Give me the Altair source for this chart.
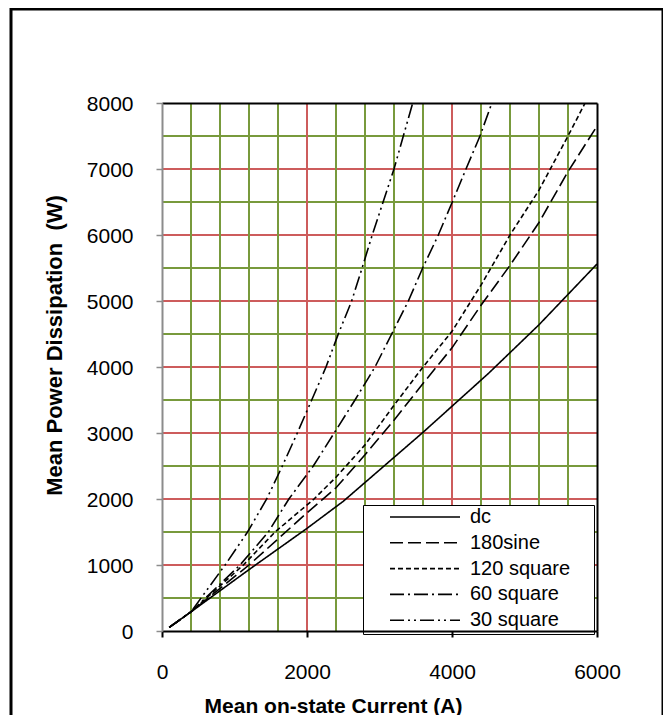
import altair as alt
import pandas as pd

# ---------------- data ----------------
series_names = ["dc", "180sine", "120 square", "60 square", "30 square"]

dc_current = [100, 400, 1200, 2000, 2500, 3600, 4500, 5200, 6000]
dc_power = [55, 290, 930, 1555, 1965, 3010, 3900, 4640, 5560]

sine180_current = [100, 400, 1200, 2000, 2400, 2800, 3200, 3600, 4000, 4400, 4800, 5200, 5600, 6000]
sine180_power = [55, 290, 1000, 1790, 2170, 2670, 3194, 3750, 4290, 4935, 5540, 6190, 6960, 7650]

sq120_current = [100, 400, 1122, 1559, 2097, 2400, 2800, 3200, 3600, 4000, 4400, 4800, 5200, 5600, 5836]
sq120_power = [55, 290, 1000, 1500, 2000, 2330, 2820, 3420, 4000, 4540, 5240, 6000, 6680, 7500, 8000]

sq60_current = [100, 400, 1076, 1467, 1750, 2087, 2375, 2662, 2938, 3168, 3398, 3596, 3811, 4004, 4193, 4386, 4550]
sq60_power = [55, 290, 1000, 1500, 2000, 2500, 3000, 3500, 4000, 4500, 5000, 5500, 6000, 6500, 7000, 7500, 8000]

sq30_current = [100, 400, 870, 1180, 1444, 1660, 1866, 2065, 2262, 2432, 2616, 2760, 2900, 3200, 3458]
sq30_power = [55, 290, 1000, 1500, 2000, 2500, 3000, 3500, 4000, 4500, 5000, 5500, 6000, 7000, 8000]

x_tick_values = [0, 2000, 4000, 6000]
y_tick_values = [0, 1000, 2000, 3000, 4000, 5000, 6000, 7000, 8000]
x_grid_values = [400, 800, 1200, 1600, 2000, 2400, 2800, 3200, 3600, 4000, 4400, 4800, 5200, 5600]
x_grid_major = [2000, 4000]
y_grid_values = [500, 1000, 1500, 2000, 2500, 3000, 3500, 4000, 4500, 5000, 5500, 6000, 6500, 7000, 7500]
y_grid_major = [1000, 2000, 3000, 4000, 5000, 6000, 7000]

x_title = "Mean on-state Current (A)"
y_title = "Mean Power Dissipation\u00a0 (W)"

# ---------------- tables ----------------
rows = []
for name, cur, pw in [
    ("dc", dc_current, dc_power),
    ("180sine", sine180_current, sine180_power),
    ("120 square", sq120_current, sq120_power),
    ("60 square", sq60_current, sq60_power),
    ("30 square", sq30_current, sq30_power),
]:
    for c, p in zip(cur, pw):
        rows.append({"series": name, "current": c, "power": p})
curves = pd.DataFrame(rows)

xgrid = pd.DataFrame({"v": x_grid_values, "major": [v in x_grid_major for v in x_grid_values]})
ygrid = pd.DataFrame({"v": y_grid_values, "major": [v in y_grid_major for v in y_grid_values]})

# ---------------- styles ----------------
FONT = "Liberation Sans"
RED = "#CD5C5C"
GREEN = "#789A3C"
AXIS_GRAY = "#8C8C8C"
dash_patterns = [[1, 0], [13, 5], [5, 3], [14, 4, 2, 4], [14, 4, 2, 4, 2, 4]]
# blank room at the right inside the legend box (non-breaking space + blank braille cell)
LEGEND_PAD = "\u00a0\u2800"

xs = alt.Scale(domain=[0, 6000], nice=False, zero=False)
ys = alt.Scale(domain=[0, 8000], nice=False, zero=False)

ygrid_layer = alt.Chart(ygrid).mark_rule(strokeWidth=2).encode(
    y=alt.Y("v:Q", scale=ys,
            axis=alt.Axis(orient="right", labels=False, ticks=False, grid=False,
                          domainColor="black", domainWidth=2, title=None, zindex=1)),
    color=alt.condition("datum.major", alt.value(RED), alt.value(GREEN)),
)

xgrid_layer = alt.Chart(xgrid).mark_rule(strokeWidth=2).encode(
    x=alt.X("v:Q", scale=xs,
            axis=alt.Axis(orient="top", labels=False, ticks=False, grid=False,
                          domainColor="black", domainWidth=2, title=None, zindex=1)),
    color=alt.condition("datum.major", alt.value(RED), alt.value(GREEN)),
)

lines = alt.Chart(curves).mark_line(strokeWidth=1.6, color="black", clip=True).encode(
    x=alt.X("current:Q", scale=xs,
            axis=alt.Axis(orient="bottom", values=x_tick_values, format="d", grid=False,
                          labelFont=FONT, labelFontSize=21, labelColor="black",
                          labelPadding=24, labelFlush=False, labelOverlap=False,
                          tickColor="black", tickWidth=2, tickSize=6,
                          domainColor="black", domainWidth=2, zindex=1,
                          title=x_title, titleFont=FONT, titleFontSize=21,
                          titleFontWeight="bold", titleColor="black",
                          titleX=171, titleY=81, titleAlign="center",
                          titleBaseline="alphabetic")),
    y=alt.Y("power:Q", scale=ys,
            axis=alt.Axis(orient="left", values=y_tick_values, format="d", grid=False,
                          labelFont=FONT, labelFontSize=21, labelColor="black",
                          labelPadding=23, labelOffset=1, labelFlush=False,
                          labelOverlap=False,
                          tickColor=AXIS_GRAY, tickWidth=1.5, tickSize=6,
                          domainColor=AXIS_GRAY, domainWidth=2, zindex=1,
                          title=y_title, titleFont=FONT, titleFontSize=22,
                          titleFontWeight="bold", titleColor="black",
                          titleAngle=270, titleX=-108, titleY=242,
                          titleAlign="center", titleBaseline="middle")),
    strokeDash=alt.StrokeDash(
        "series:N",
        scale=alt.Scale(domain=series_names, range=dash_patterns),
        legend=alt.Legend(
            title=None, orient="none", legendX=201, legendY=402,
            symbolType="stroke", symbolSize=4900, symbolStrokeWidth=1.6,
            symbolStrokeColor="black", clipHeight=18, rowPadding=5.8,
            labelOffset=9, padding=3, symbolOffset=23,
            labelFont=FONT, labelFontSize=20, labelColor="black", labelLimit=0,
            labelExpr="datum.label + '" + LEGEND_PAD + "'",
            fillColor="white", strokeColor="black",
        ),
    ),
    order=alt.Order("current:Q"),
)

frame = alt.Chart(pd.DataFrame({"k": [0]})).mark_rect(
    filled=False, stroke="black", strokeWidth=3, clip=False
).encode(
    x=alt.value(-151), x2=alt.value(501), y=alt.value(-94), y2=alt.value(640)
)

chart = (
    alt.layer(ygrid_layer, xgrid_layer, lines, frame)
    .resolve_axis(x="independent", y="independent")
    .properties(
        width=435, height=528,
        autosize=alt.AutoSizeParams(type="none"),
        padding={"left": 154, "top": 95, "right": 66, "bottom": 84},
        background="white",
    )
    .configure_view(strokeWidth=0)
    .configure_legend(strokeWidth=2)
    .configure(font=FONT)
)

chart.save("out.html", embed_options={"renderer": "svg", "actions": False})
